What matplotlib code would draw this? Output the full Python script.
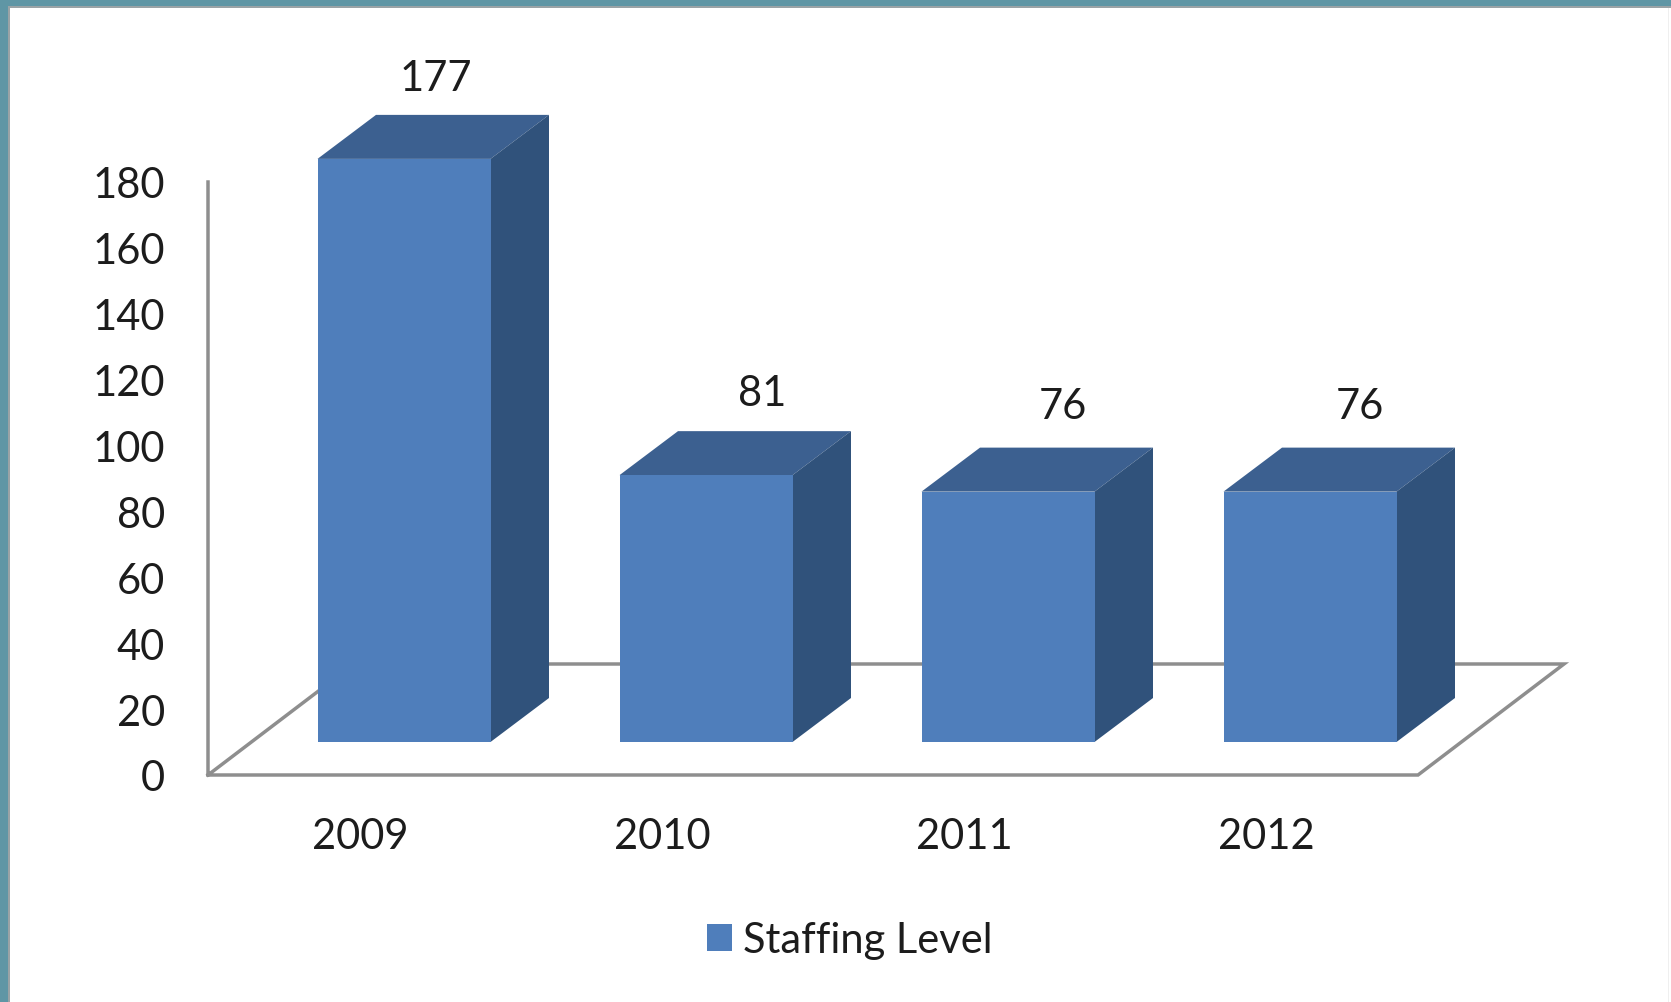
import numpy as np
import matplotlib
matplotlib.use('Agg')
import matplotlib.pyplot as plt
from matplotlib.patches import Rectangle

years = ['2009', '2010', '2011', '2012']
staffing = [177, 81, 76, 76]
yticks = [0, 20, 40, 60, 80, 100, 120, 140, 160, 180]

# fine offsets of the value labels, in pixels from the back top corner
label_dx = [32, 56, 55, 50]
label_dy = [37, 38, 42, 42]

W, H = 1671, 1003
PX_X = 302.0            # pixels per category
PX_Y = 593 / 180.0      # pixels per staff
plt.rcParams['font.family'] = ['Lato', 'DejaVu Sans']
text_col = '#1c1c1c'
grid_col = '#8e8e8e'

fig = plt.figure(figsize=(W / 100, H / 100), dpi=100, facecolor='white')
ax = fig.add_axes([208 / W, 1 - 776 / H, 1210 / W, 593 / H])
ax.set_xlim((208 - 404) / PX_X, (1418 - 404) / PX_X)
ax.set_ylim(0, 180)
ax.patch.set_visible(False)
for s in ax.spines.values():
    s.set_visible(False)

x = np.arange(len(years))
width = 173 / PX_X
base = 33 / PX_Y        # front of the bars stands above the floor edge
bar_dx = 58.5 / PX_X
bar_dy = 44 / PX_Y

# floor and wall lines
floor_dx = 146 / PX_X
floor_dy = 111 / PX_Y
x0, x1 = ax.get_xlim()
ax.plot([x0, x0, x1, x1 + floor_dx, x0 + floor_dx, x0],
        [180, 0, 0, floor_dy, floor_dy, 0],
        color=grid_col, lw=2.5, solid_joinstyle='miter', clip_on=False, zorder=1)

# 3d look: top and side first, front face through bar()
for xi, v in zip(x, staffing):
    left, right = xi - width / 2, xi + width / 2
    top = base + v
    ax.fill([left, right, right + bar_dx, left + bar_dx],
            [top, top, top + bar_dy, top + bar_dy],
            color='#3c6090', lw=0, clip_on=False, zorder=2)
    ax.fill([right, right + bar_dx, right + bar_dx, right],
            [base, base + bar_dy, top + bar_dy, top],
            color='#30527b', lw=0, clip_on=False, zorder=2)
bars = ax.bar(x, staffing, width, bottom=base, color='#4f7ebb', lw=0,
              clip_on=False, zorder=3, label='Staffing Level')

for xi, v, dx, dy in zip(x, staffing, label_dx, label_dy):
    ax.annotate(str(v), (xi, base + v + bar_dy), xytext=(dx * 0.72, dy * 0.72),
                textcoords='offset points', ha='center', va='center',
                fontsize=30, color=text_col, annotation_clip=False)

ax.set_xticks(x - 44 / PX_X)
ax.set_xticklabels(years)
ax.set_yticks(yticks)
ax.tick_params(axis='both', length=0, labelsize=30, labelcolor=text_col)
ax.tick_params(axis='x', pad=30)
ax.tick_params(axis='y', pad=31)

fig.legend(handles=[bars], loc='center', bbox_to_anchor=(850 / W, 1 - 941 / H),
           frameon=False, fontsize=30, labelcolor=text_col, borderpad=0,
           handlelength=0.6, handleheight=0.6, handletextpad=0.27)

# slide border round the picture, with its thin dark inner edge
for rect, col in [((8 / W, 0, 2 / W, 1 - 7 / H), '#9aa3a6'),
                  ((8 / W, 1 - 9 / H, 1 - 8 / W, 2 / H), '#9aa3a6'),
                  ((1 - 3 / W, 0, 1 / W, 1 - 9 / H), '#efefef'),
                  ((0, 1 - 7 / H, 1, 7 / H), '#5f96a5'),
                  ((0, 0, 8 / W, 1), '#5f96a5')]:
    fig.add_artist(Rectangle(rect[:2], rect[2], rect[3], transform=fig.transFigure,
                             color=col, lw=0))

fig.savefig('out.png', dpi=100)
